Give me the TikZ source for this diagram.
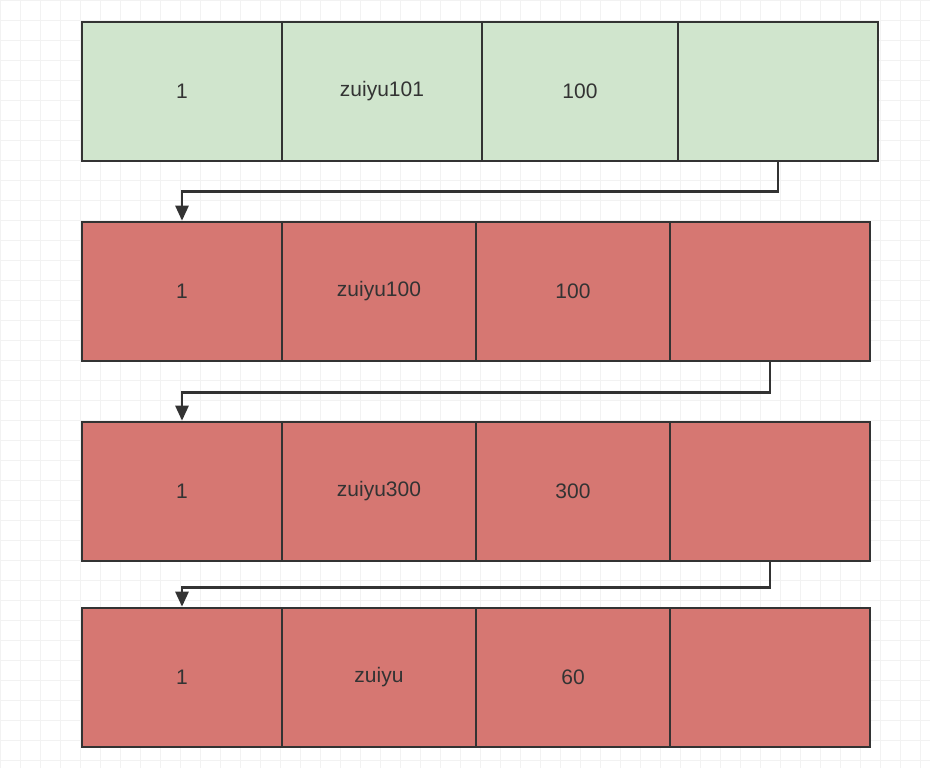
\documentclass[tikz,border=0pt]{standalone}
\usepackage{fontspec}
\setmainfont{Liberation Sans}
\usetikzlibrary{arrows.meta}
\definecolor{gfill}{HTML}{D0E5CD}
\definecolor{rfill}{HTML}{D67772}
\definecolor{edge}{HTML}{333333}
\tikzset{
  cell/.style={draw=edge,line width=2.6pt,minimum height=139pt,inner sep=0pt,font=\fontsize{21}{24}\selectfont,text=edge},
  link/.style={draw=edge,line width=2.6pt,-{Triangle[length=15pt,width=13pt]}}
}
\begin{document}
\begin{tikzpicture}[x=1pt,y=-1pt]
\useasboundingbox (0,0) rectangle (930,768);
\fill[white] (0,0) rectangle (930,768);
\draw[gray!10,line width=0.6pt,step=20pt] (0,0) grid (930,768);
% row 1
\node[cell,fill=gfill,minimum width=200pt] (a1) at (182,91.5) {1};
\node[cell,fill=gfill,minimum width=200pt] (a2) at (382,91.5) {zuiyu101};
\node[cell,fill=gfill,minimum width=196pt] (a3) at (580,91.5) {100};
\node[cell,fill=gfill,minimum width=200pt] (a4) at (778,91.5) {};
% row 2
\node[cell,fill=rfill,minimum width=200pt] (b1) at (182,291.5) {1};
\node[cell,fill=rfill,minimum width=194pt] (b2) at (379,291.5) {zuiyu100};
\node[cell,fill=rfill,minimum width=194pt] (b3) at (573,291.5) {100};
\node[cell,fill=rfill,minimum width=200pt] (b4) at (770,291.5) {};
% row 3
\node[cell,fill=rfill,minimum width=200pt] (c1) at (182,491.5) {1};
\node[cell,fill=rfill,minimum width=194pt] (c2) at (379,491.5) {zuiyu300};
\node[cell,fill=rfill,minimum width=194pt] (c3) at (573,491.5) {300};
\node[cell,fill=rfill,minimum width=200pt] (c4) at (770,491.5) {};
% row 4
\node[cell,fill=rfill,minimum width=200pt] (d1) at (182,677.5) {1};
\node[cell,fill=rfill,minimum width=194pt] (d2) at (379,677.5) {zuiyu};
\node[cell,fill=rfill,minimum width=194pt] (d3) at (573,677.5) {60};
\node[cell,fill=rfill,minimum width=200pt] (d4) at (770,677.5) {};
% links
\draw[link] (a4.south) -- ++(0,29) -| (b1.north);
\draw[link] (b4.south) -- ++(0,30) -| (c1.north);
\draw[link] (c4.south) -- ++(0,25) -| (d1.north);
\end{tikzpicture}
\end{document}
